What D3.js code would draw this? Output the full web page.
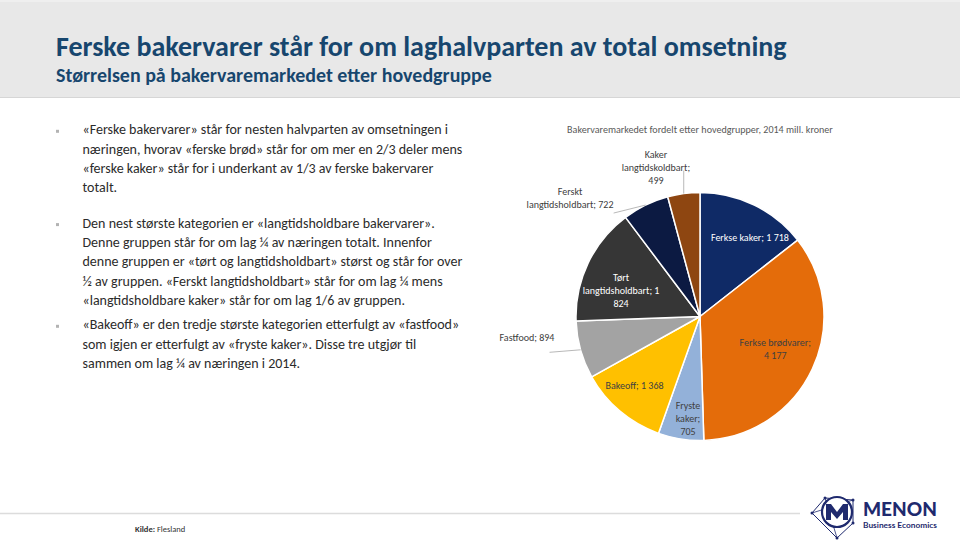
<!DOCTYPE html>
<html><head><meta charset="utf-8">
<script src="https://cdn.jsdelivr.net/npm/d3@7"></script>
<style>
html,body{margin:0;padding:0;background:#fff;}
svg{display:block;}
text{font-family:Carlito,Lato,"Open Sans",sans-serif;}
</style></head>
<body>
<svg id="c" width="960" height="541"></svg>
<script>
// ---------- data ----------
const titleText = "Ferske bakervarer står for om laghalvparten av total omsetning";
const subtitleText = "Størrelsen på bakervaremarkedet etter hovedgruppe";
const chartTitle = "Bakervaremarkedet fordelt etter hovedgrupper, 2014 mill. kroner";
const categories = ["Ferkse kaker", "Ferkse brødvarer", "Fryste kaker", "Bakeoff", "Fastfood",
  "Tørt langtidsholdbart", "Ferskt langtidsholdbart", "Kaker langtidskoldbart"];
const values = [1718, 4177, 705, 1368, 894, 1824, 722, 499];
const colors = ["#0f2a66", "#e46c0a", "#93b1d9", "#ffc000", "#a3a3a3", "#363636", "#0c1a42", "#8e4611"];
const bullets = [
  ["«Ferske bakervarer» står for nesten halvparten av omsetningen i",
   "næringen, hvorav «ferske brød» står for om mer en 2/3 deler mens",
   "«ferske kaker» står for i underkant av 1/3 av ferske bakervarer",
   "totalt."],
  ["Den nest største kategorien er «langtidsholdbare bakervarer».",
   "Denne gruppen står for om lag ¼ av næringen totalt. Innenfor",
   "denne gruppen er «tørt og langtidsholdbart» størst og står for over",
   "½ av gruppen. «Ferskt langtidsholdbart» står for om lag ¼ mens",
   "«langtidsholdbare kaker» står for om lag 1/6 av gruppen."],
  ["«Bakeoff» er den tredje største kategorien etterfulgt av «fastfood»",
   "som igjen er etterfulgt av «fryste kaker». Disse tre utgjør til",
   "sammen om lag ¼ av næringen i 2014."]
];
const sourceLabel = "Kilde:";
const sourceText = " Flesland";

// ---------- layout ----------
const svg = d3.select("#c");
const navyTitle = "#17466e";

function fitFont(sel, target, start) {
  sel.style("font-size", start + "px");
  const w = sel.node().getComputedTextLength();
  const fs = start * target / w;
  sel.style("font-size", fs + "px");
  return fs;
}

// header band
svg.append("rect").attr("x", 0).attr("y", 0).attr("width", 960).attr("height", 97).attr("fill", "#e8e8e8");
svg.append("line").attr("x1", 0).attr("x2", 960).attr("y1", 97.5).attr("y2", 97.5).attr("stroke", "#d6d6d6");
svg.append("line").attr("x1", 0).attr("x2", 960).attr("y1", 1).attr("y2", 1).attr("stroke", "#f2f2f2").attr("stroke-width", 1.5);

const t1 = svg.append("text").attr("x", 56).attr("y", 56).attr("fill", navyTitle)
  .style("font-weight", 700).text(titleText);
fitFont(t1, 731, 26);
const t2 = svg.append("text").attr("x", 56).attr("y", 82).attr("fill", navyTitle)
  .style("font-weight", 700).text(subtitleText);
fitFont(t2, 436, 18);

// bullets
const paraY = [134.3, 227.6, 329.3];
const lineH = 19.35;
const probe = svg.append("text").attr("x", 0).attr("y", -50).text(bullets[1][2]);
const bfs = fitFont(probe, 380, 15);
probe.remove();
bullets.forEach((para, i) => {
  svg.append("rect").attr("x", 56).attr("y", paraY[i] - 4.5).attr("width", 3).attr("height", 3).attr("fill", "#b3b3b3");
  para.forEach((ln, j) => {
    svg.append("text").attr("x", 82.5).attr("y", paraY[i] + j * lineH)
      .attr("fill", "#2b2b2b").style("font-size", bfs + "px").text(ln);
  });
});

// chart title
const ct = svg.append("text").attr("x", 700).attr("y", 133).attr("text-anchor", "middle")
  .attr("fill", "#595959").text(chartTitle);
fitFont(ct, 266, 11);

// pie
const cx = 700, cy = 316.5, R = 124;
const g = svg.append("g").attr("transform", `translate(${cx},${cy})`);
const pie = d3.pie().sort(null).value(d => d)(values);
const arc = d3.arc().innerRadius(0).outerRadius(R);
g.selectAll("path.slice").data(pie).join("path").attr("class", "slice")
  .attr("d", arc).attr("fill", (d, i) => colors[i])
  .attr("stroke", "#fff").attr("stroke-width", 1.5).attr("stroke-linejoin", "round");

const fmt = v => d3.format(",")(v).replace(/,/g, " ");
const labelWraps = [[4], [2, 2], [1, 1, 1], [3], [2], [1, 2, 1], [1, 2], [1, 1, 1]];
// placement: inside -> polar {k, da}; outside -> offsets from slice edge point
const place = [
  {k: 0.754, da: 6.3, light: true},
  {k: 0.66, da: -2},
  {k: 0.83, da: -2.2},
  {k: 0.77, da: 3.1},
  {out: true, lx: -53.6, ly: -12.3, ex: -31, ey: 2.5},
  {k: 0.67, da: -7.3, light: true},
  {out: true, lx: -75.6, ly: -7.5, ex: -32, ey: 8},
  {out: true, lx: -27.8, ly: -26, ex: 0, ey: -23}
];
const probe2 = svg.append("text").attr("y", -50).text(categories[0] + "; " + fmt(values[0]));
const pfs = fitFont(probe2, 78, 11);
probe2.remove();
const pLineH = 12.9;

pie.forEach((d, i) => {
  const words = (categories[i] + "; " + fmt(values[i])).split(" ");
  const lines = []; let p = 0;
  labelWraps[i].forEach(n => { lines.push(words.slice(p, p + n).join(" ")); p += n; });
  const mid = (d.startAngle + d.endAngle) / 2;
  const pl = place[i];
  let x, y;
  if (pl.out) {
    const ex = R * Math.sin(mid), ey = -R * Math.cos(mid);
    g.append("line").attr("x1", ex).attr("y1", ey).attr("x2", ex + pl.ex).attr("y2", ey + pl.ey)
      .attr("stroke", "#a6a6a6").attr("stroke-width", 0.8);
    x = ex + pl.lx; y = ey + pl.ly;
  } else {
    const a = mid + pl.da * Math.PI / 180;
    x = pl.k * R * Math.sin(a); y = -pl.k * R * Math.cos(a);
  }
  const t = g.append("text").attr("text-anchor", "middle")
    .attr("fill", pl.light ? "#ffffff" : "#404040").style("font-size", pfs + "px");
  const y0 = y - (lines.length - 1) * pLineH / 2 + pfs * 0.35;
  lines.forEach((ln, j) => t.append("tspan").attr("x", x).attr("y", y0 + j * pLineH).text(ln));
});

// footer
svg.append("line").attr("x1", 0).attr("x2", 800).attr("y1", 513.5).attr("y2", 513.5).attr("stroke", "#dcdcdc").attr("stroke-width", 1.5);
const src = svg.append("text").attr("x", 135).attr("y", 532).attr("fill", "#333").style("font-size", "8.5px");
src.append("tspan").style("font-weight", 700).text(sourceLabel);
src.append("tspan").text(sourceText);

// logo
const logoNavy = "#1f2a6e";
const lg = svg.append("g");
const poly = [[812, 513], [825, 498], [853, 500], [853, 523], [837, 538]];
lg.append("polygon").attr("points", poly.map(p => p.join(",")).join(" "))
  .attr("fill", "none").attr("stroke", logoNavy).attr("stroke-width", 1);
lg.append("line").attr("x1", 812).attr("y1", 513).attr("x2", 853).attr("y2", 500).attr("stroke", logoNavy).attr("stroke-width", 0.8);
lg.append("line").attr("x1", 825).attr("y1", 498).attr("x2", 837).attr("y2", 538).attr("stroke", logoNavy).attr("stroke-width", 0.8);
poly.forEach(p => lg.append("circle").attr("cx", p[0]).attr("cy", p[1]).attr("r", 1.5).attr("fill", logoNavy));
lg.append("circle").attr("cx", 837).attr("cy", 512).attr("r", 15).attr("fill", "#fff").attr("stroke", logoNavy).attr("stroke-width", 2.2);
lg.append("path").attr("d", "M826,520 L826,504 L831,504 L837,512 L843,504 L848,504 L848,520 L843,520 L843,512 L837,519 L831,512 L831,520 Z")
  .attr("fill", logoNavy);
const mt = lg.append("text").attr("x", 863).attr("y", 516).attr("fill", logoNavy)
  .style("font-weight", 900).style("font-family", "Lato, sans-serif").text("MENON");
fitFont(mt, 74, 20);
const bt = lg.append("text").attr("x", 863).attr("y", 527.5).attr("fill", logoNavy)
  .style("font-weight", 700).style("font-family", "Lato, sans-serif").text("Business Economics");
fitFont(bt, 74, 8);
</script>
</body></html>
